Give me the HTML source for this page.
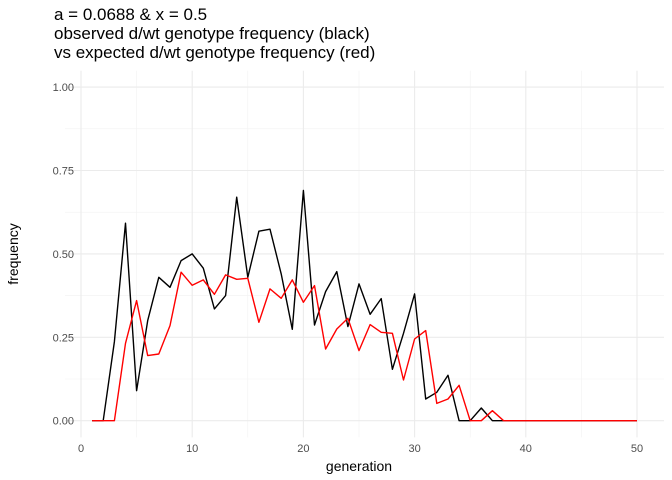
<!DOCTYPE html>
<html><head><meta charset="utf-8"><style>
body{margin:0;background:#fff;}
svg{display:block;font-family:"Liberation Sans",Arial,sans-serif;}
</style></head><body>
<svg id="chart" width="672" height="480">
<g font-size="17" fill="#000">
<text x="54" y="20">a = 0.0688 &amp; x = 0.5</text>
<text x="54" y="39">observed d/wt genotype frequency (black)</text>
<text x="54" y="58">vs expected d/wt genotype frequency (red)</text>
</g>
<g id="grid"></g>
<g id="ticks" font-size="11" fill="#4d4d4d"></g>
<text x="440" y="471" font-size="14" text-anchor="middle" transform="translate(-81,0)">generation</text>
<text transform="translate(18,254) rotate(-90)" font-size="14" text-anchor="middle">frequency</text>
<g id="series"></g>
</svg>
<script>
const generations = Array.from({length:50},(_,i)=>i+1);
const observed = [0,0,0.237,0.592,0.09,0.30,0.43,0.40,0.48,0.50,0.457,0.335,0.375,0.67,0.43,0.568,0.574,0.44,0.274,0.69,0.287,0.387,0.447,0.282,0.41,0.319,0.366,0.154,0.262,0.38,0.065,0.085,0.136,0,0,0.038,0,0,0,0,0,0,0,0,0,0,0,0,0,0];
const expected = [0,0,0,0.232,0.36,0.195,0.2,0.285,0.445,0.406,0.422,0.379,0.437,0.424,0.427,0.295,0.395,0.367,0.422,0.355,0.405,0.215,0.275,0.307,0.21,0.288,0.265,0.262,0.122,0.245,0.27,0.052,0.065,0.106,0,0,0.03,0,0,0,0,0,0,0,0,0,0,0,0,0];
const xTicks = [0,10,20,30,40,50];
const xMinor = [5,15,25,35,45];
const yTicks = [0,0.25,0.5,0.75,1.0];
const yTickLabels = ["0.00","0.25","0.50","0.75","1.00"];
const yMinor = [0.125,0.375,0.625,0.875];
const X0=65,X1=664,Y0=437.4,Y1=70.7;
const xs=v=>81+v*11.12, ys=v=>420.7-v*333.6;
const NS='http://www.w3.org/2000/svg';
function mk(t,a,p){const e=document.createElementNS(NS,t);for(const k in a)e.setAttribute(k,a[k]);p.appendChild(e);return e;}
const grid=document.getElementById('grid'),ticks=document.getElementById('ticks'),ser=document.getElementById('series');
xMinor.forEach(v=>{const l=mk('line',{x1:xs(v),x2:xs(v),y1:Y1,y2:Y0,stroke:'#f2f2f2','stroke-width':0.6},grid);

});
yMinor.forEach(v=>{const l=mk('line',{x1:X0,x2:X1,y1:ys(v),y2:ys(v),stroke:'#f2f2f2','stroke-width':0.6},grid);

});
xTicks.forEach(v=>{const l=mk('line',{x1:xs(v),x2:xs(v),y1:Y1,y2:Y0,stroke:'#ebebeb','stroke-width':1.1},grid);


const t=mk('text',{x:xs(v),y:452,'text-anchor':'middle'},ticks);t.textContent=v;

});
yTicks.forEach((v,i)=>{const l=mk('line',{x1:X0,x2:X1,y1:ys(v),y2:ys(v),stroke:'#ebebeb','stroke-width':1.1},grid);


const t=mk('text',{x:74,y:ys(v)+4,'text-anchor':'end'},ticks);t.textContent=yTickLabels[i];

});
function path(vals,col,name){const d=vals.map((v,i)=>(i?'L':'M')+xs(generations[i]).toFixed(1)+','+ys(v).toFixed(1)).join('');
const p=mk('path',{d:d,fill:'none',stroke:col,'stroke-width':1.4,'stroke-linejoin':'round'},ser);

}
path(observed,'#000','observed-line');
path(expected,'#ff0000','expected-line');
</script>
</body></html>
